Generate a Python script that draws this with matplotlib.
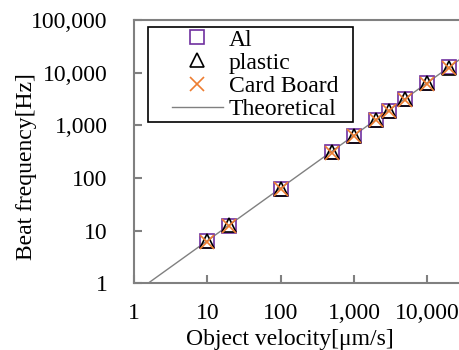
import numpy as np
import matplotlib.pyplot as plt
from matplotlib.patches import Rectangle
from matplotlib.ticker import FuncFormatter, NullLocator

plt.rcParams['font.family'] = ['Liberation Serif', 'DejaVu Serif']

# object velocity [um/s]
velocity = [10, 20, 100, 500, 1000, 2000, 3000, 5000, 10000, 20000]
# beat frequency [Hz]
freq_al = [6.2, 12.3, 61, 305, 620, 1240, 1860, 3100, 6250, 12500]
freq_plastic = [6.3, 12.6, 62, 310, 630, 1260, 1900, 3150, 6300, 12400]
freq_card = [6.1, 12.2, 61, 300, 615, 1230, 1850, 3080, 6200, 12300]
# theoretical line end points
theory_x = [1, 100000]
theory_y = [0.64, 64000]

x_ticks = [1, 10, 100, 1000, 10000]
y_ticks = [1, 10, 100, 1000, 10000, 100000]

gray = '#808080'
fs = 17

fig = plt.figure(figsize=(4.59, 3.5), dpi=100)
ax = fig.add_axes([0.292, 0.191, 0.7985, 0.752])

ax.plot(theory_x, theory_y, color=gray, lw=1.0, label='Theoretical', zorder=1)
ax.plot(velocity, freq_al, ls='none', marker='s', ms=10.5, mfc='none', mec='#7030A0',
        mew=1.2, label='Al', zorder=2)
ax.plot(velocity, freq_plastic, ls='none', marker='^', ms=10.5, mfc='none', mec='black',
        mew=1.2, label='plastic', zorder=3)
ax.plot(velocity, freq_card, ls='none', marker='x', ms=10.5, color='#ED7D31',
        mew=1.2, label='Card Board', zorder=4)

ax.set_xscale('log')
ax.set_yscale('log')
ax.set_xlim(1, 100000)
ax.set_ylim(1, 100000)
ax.set_xticks(x_ticks)
ax.set_yticks(y_ticks)
fmt = FuncFormatter(lambda v, p: f"{int(round(v)):,}")
ax.xaxis.set_major_formatter(fmt)
ax.yaxis.set_major_formatter(fmt)
ax.xaxis.set_minor_locator(NullLocator())
ax.yaxis.set_minor_locator(NullLocator())
ax.tick_params(axis='both', direction='in', length=6, width=1.5, color=gray,
               labelsize=fs)
ax.tick_params(axis='y', pad=19)
ax.tick_params(axis='x', pad=14)
for s in ax.spines.values():
    s.set_color(gray)
    s.set_linewidth(1.5)

fig.text(27 / 459, 1 - 167 / 350, 'Beat frequency[Hz]', rotation=90,
         ha='center', va='center', fontsize=fs)
fig.text(290 / 459, 1 - 339 / 350, 'Object velocity[\u03bcm/s]',
         ha='center', va='center', fontsize=fs)

# legend box drawn by hand so the padding matches
fig.patches.append(Rectangle((148 / 459, 1 - 122 / 350), 205 / 459, 95 / 350,
                             transform=fig.transFigure, fill=True, facecolor='white',
                             edgecolor='black', lw=1.2, zorder=5))

h, l = ax.get_legend_handles_labels()
order = [1, 2, 3, 0]
leg = fig.legend([h[i] for i in order], [l[i] for i in order],
                 loc='upper left', bbox_to_anchor=(172 / 459, 1 - 29 / 350),
                 fontsize=fs, frameon=False, borderpad=0, labelspacing=0.07,
                 handlelength=2.15, handletextpad=0.25, borderaxespad=0)
leg.set_zorder(6)

fig.savefig('out.png', dpi=100)
